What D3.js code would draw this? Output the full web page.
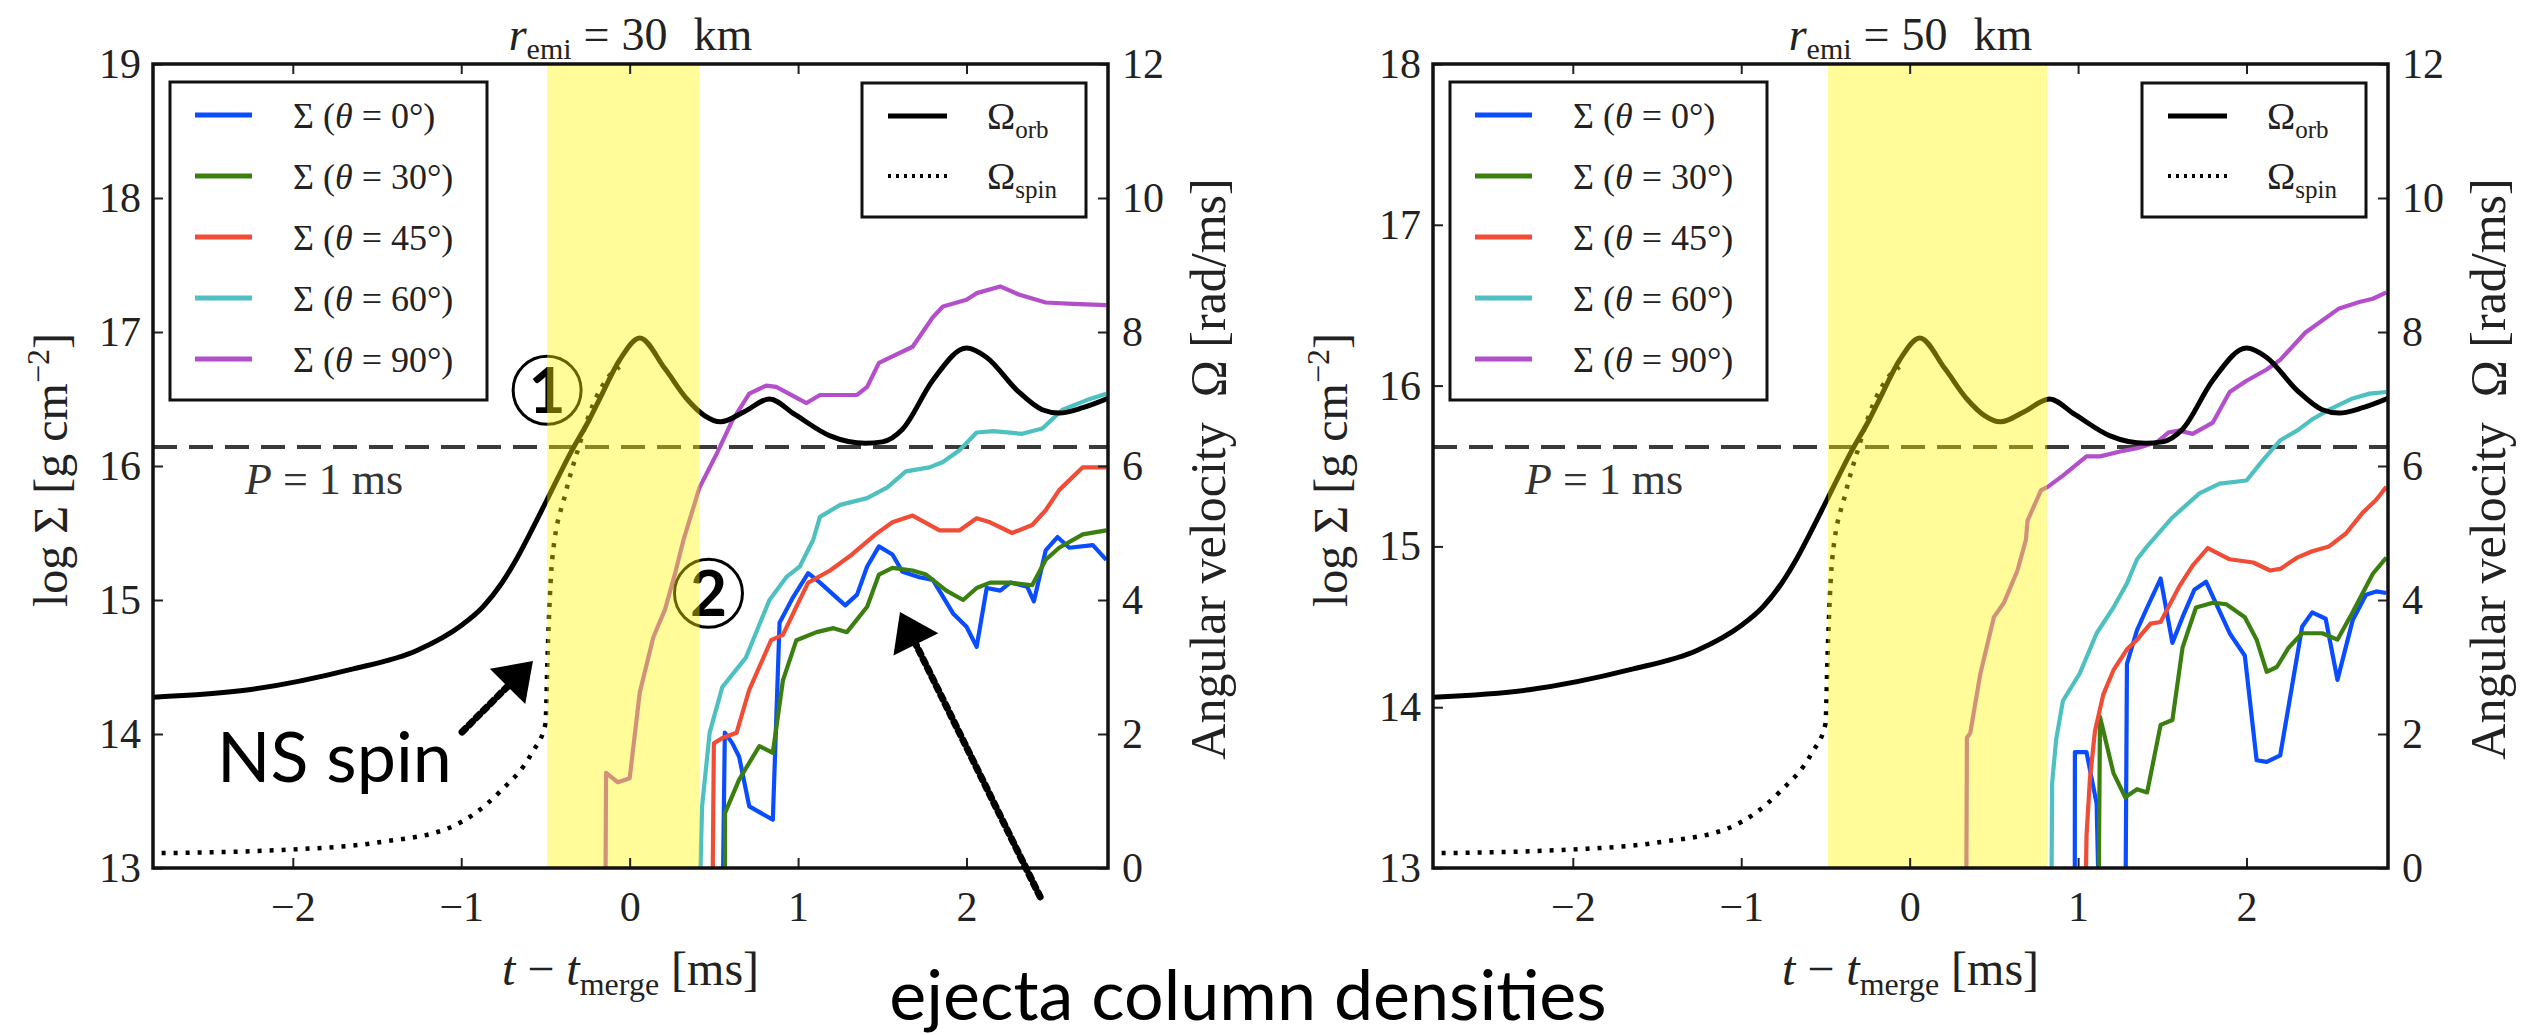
<!DOCTYPE html>
<html>
<head>
<meta charset="utf-8">
<script src="https://cdn.jsdelivr.net/npm/d3@7"></script>
<style>
  body { margin: 0; background: #fff; }
  svg { display: block; }
  text { font-family: 'Liberation Serif', 'Times New Roman', serif; fill: #222; white-space: pre; }
  .note { font-family: Lato, 'Open Sans', sans-serif; fill: #000; }
</style>
</head>
<body>
<svg width="2536" height="1035"></svg>
<script>
// time since merger [ms]
const tDomain = [-2.83, 2.84]
const tTicks = [-2, -1, 0, 1, 2]
const omegaTicks = [0, 2, 4, 6, 8, 10, 12]
const sigmaTicks30 = [13, 14, 15, 16, 17, 18, 19]
const sigmaTicks50 = [13, 14, 15, 16, 17, 18]
const angles = ['0', '30', '45', '60', '90']
const colors = ['#0a4cff', '#3a7f10', '#f04c36', '#4fc0c0', '#b44fcc']
const omegaP1ms = 2 * Math.PI

// yellow band (merger phase) per panel
const band30 = [-0.49, 0.415]
const band50 = [-0.485, 0.815]

// angular velocities [rad/ms], same run for both panels
const omegaOrb = [[-2.83, 2.55], [-2.26, 2.66], [-1.66, 2.96], [-1.26, 3.25], [-1.0, 3.62], [-0.87, 3.90],
  [-0.76, 4.25], [-0.67, 4.62], [-0.58, 5.05], [-0.49, 5.50], [-0.35, 6.20], [-0.24, 6.69], [-0.18, 6.99],
  [-0.06, 7.58], [0.06, 7.91], [0.21, 7.45], [0.34, 7.0], [0.44, 6.76], [0.54, 6.66], [0.68, 6.81], [0.83, 7.0],
  [0.98, 6.77], [1.19, 6.45], [1.40, 6.34], [1.50, 6.36], [1.62, 6.55], [1.80, 7.28], [2.0, 7.76],
  [2.12, 7.62], [2.30, 7.13], [2.45, 6.84], [2.55, 6.79], [2.69, 6.87], [2.84, 7.01]]
const omegaSpin = [[-2.85, 0.22], [-2.06, 0.27], [-1.47, 0.39], [-1.07, 0.60], [-0.77, 1.14], [-0.58, 1.72],
  [-0.50, 2.15], [-0.487, 3.2], [-0.46, 4.6], [-0.38, 5.6], [-0.31, 6.22], [-0.22, 6.9], [-0.12, 7.35], [-0.06, 7.48]]

// log Sigma [g cm^-2], r_emi = 30 km
const sig30_0 = [[0.55, 12.5], [0.565, 14.01], [0.61, 13.93], [0.65, 13.83], [0.71, 13.46], [0.85, 13.36],
  [0.89, 14.83], [0.97, 15.02], [1.06, 15.20], [1.13, 15.13], [1.28, 14.96], [1.35, 15.04], [1.41, 15.25],
  [1.48, 15.40], [1.56, 15.34], [1.62, 15.21], [1.72, 15.17], [1.80, 15.15], [1.92, 14.90], [2.0, 14.80],
  [2.06, 14.65], [2.12, 15.09], [2.20, 15.07], [2.26, 15.13], [2.36, 15.10], [2.40, 14.99], [2.47, 15.37],
  [2.54, 15.47], [2.61, 15.39], [2.75, 15.41], [2.83, 15.30]]
const sig30_30 = [[0.565, 12.5], [0.566, 13.41], [0.65, 13.66], [0.77, 13.91], [0.85, 13.86], [0.91, 14.40],
  [0.99, 14.70], [1.11, 14.76], [1.21, 14.79], [1.29, 14.76], [1.41, 14.95], [1.48, 15.19], [1.56, 15.24],
  [1.68, 15.22], [1.76, 15.19], [1.88, 15.07], [1.98, 15.0], [2.06, 15.09], [2.14, 15.13], [2.26, 15.13],
  [2.39, 15.11], [2.47, 15.30], [2.55, 15.39], [2.69, 15.49], [2.83, 15.52]]
const sig30_45 = [[0.49, 12.5], [0.50, 13.93], [0.55, 13.97], [0.635, 14.01], [0.71, 14.33], [0.84, 14.70],
  [0.91, 14.74], [0.99, 14.95], [1.06, 15.13], [1.19, 15.22], [1.32, 15.34], [1.46, 15.49], [1.56, 15.58],
  [1.68, 15.63], [1.84, 15.52], [1.96, 15.52], [2.06, 15.61], [2.14, 15.58], [2.27, 15.50], [2.39, 15.56],
  [2.47, 15.67], [2.55, 15.82], [2.69, 15.99], [2.83, 15.99]]
const sig30_60 = [[0.41, 12.5], [0.43, 13.46], [0.475, 14.01], [0.55, 14.35], [0.69, 14.57], [0.83, 15.0],
  [0.93, 15.17], [1.01, 15.25], [1.09, 15.45], [1.13, 15.62], [1.25, 15.71], [1.41, 15.76], [1.53, 15.84],
  [1.64, 15.96], [1.78, 15.99], [1.86, 16.03], [1.96, 16.12], [2.06, 16.25], [2.16, 16.26], [2.33, 16.24],
  [2.45, 16.28], [2.57, 16.42], [2.71, 16.49], [2.83, 16.54]]
const sig30_90 = [[-0.145, 12.5], [-0.14, 13.71], [-0.07, 13.64], [0.0, 13.67], [0.06, 14.31], [0.14, 14.72],
  [0.21, 14.93], [0.27, 15.20], [0.32, 15.45], [0.415, 15.84], [0.52, 16.10], [0.61, 16.34], [0.71, 16.54],
  [0.81, 16.60], [0.87, 16.59], [1.05, 16.47], [1.13, 16.53], [1.35, 16.53], [1.41, 16.59], [1.48, 16.77],
  [1.68, 16.89], [1.80, 17.11], [1.86, 17.19], [2.0, 17.24], [2.06, 17.29], [2.20, 17.34], [2.31, 17.28],
  [2.47, 17.22], [2.63, 17.21], [2.83, 17.20]]

// log Sigma [g cm^-2], r_emi = 50 km
const sig50_0 = [[0.98, 12.5], [0.981, 13.72], [1.05, 13.72], [1.11, 13.40], [1.13, 12.5], [1.28, 12.5],
  [1.29, 14.27], [1.35, 14.48], [1.41, 14.62], [1.49, 14.80], [1.56, 14.40], [1.62, 14.56], [1.69, 14.73],
  [1.76, 14.78], [1.90, 14.46], [1.99, 14.32], [2.06, 13.67], [2.12, 13.66], [2.20, 13.70], [2.33, 14.50],
  [2.39, 14.59], [2.47, 14.55], [2.54, 14.17], [2.63, 14.54], [2.71, 14.70], [2.77, 14.72], [2.83, 14.71]]
const sig50_30 = [[1.12, 12.5], [1.13, 13.94], [1.21, 13.59], [1.28, 13.44], [1.35, 13.49], [1.41, 13.47],
  [1.49, 13.89], [1.56, 13.92], [1.62, 14.37], [1.70, 14.62], [1.80, 14.65], [1.88, 14.64], [1.99, 14.56],
  [2.06, 14.42], [2.12, 14.22], [2.18, 14.25], [2.25, 14.37], [2.33, 14.46], [2.45, 14.46], [2.54, 14.42],
  [2.63, 14.59], [2.75, 14.83], [2.83, 14.93]]
const sig50_45 = [[1.04, 12.5], [1.05, 13.2], [1.07, 13.55], [1.10, 13.85], [1.15, 14.08], [1.21, 14.23],
  [1.29, 14.36], [1.35, 14.42], [1.43, 14.52], [1.49, 14.53], [1.60, 14.75], [1.68, 14.88], [1.77, 14.99],
  [1.90, 14.92], [2.04, 14.90], [2.14, 14.85], [2.20, 14.86], [2.30, 14.93], [2.39, 14.97], [2.49, 15.0],
  [2.59, 15.08], [2.69, 15.21], [2.77, 15.29], [2.83, 15.37]]
const sig50_60 = [[0.84, 12.5], [0.846, 13.53], [0.87, 13.80], [0.91, 14.04], [1.01, 14.21], [1.11, 14.46],
  [1.21, 14.62], [1.29, 14.77], [1.35, 14.92], [1.41, 15.0], [1.56, 15.18], [1.72, 15.33], [1.84, 15.39],
  [2.0, 15.41], [2.10, 15.54], [2.20, 15.66], [2.30, 15.72], [2.39, 15.79], [2.49, 15.85], [2.63, 15.92],
  [2.73, 15.95], [2.83, 15.96]]
const sig50_90 = [[0.335, 12.5], [0.34, 13.81], [0.36, 13.84], [0.42, 14.21], [0.50, 14.56], [0.56, 14.65],
  [0.64, 14.85], [0.69, 15.04], [0.70, 15.16], [0.78, 15.35], [0.82, 15.37], [0.91, 15.44], [1.05, 15.56],
  [1.13, 15.56], [1.25, 15.59], [1.35, 15.61], [1.47, 15.65], [1.54, 15.71], [1.60, 15.72], [1.68, 15.70],
  [1.80, 15.77], [1.90, 15.96], [2.0, 16.03], [2.12, 16.10], [2.20, 16.16], [2.35, 16.33], [2.55, 16.48],
  [2.67, 16.52], [2.75, 16.54], [2.83, 16.58]]

// hand-made notes on the left panel, in (t, Omega)
const circledMarks = [{ label: '1', t: -0.49, omega: 7.13 }, { label: '2', t: 0.468, omega: 4.10 }]
const spinArrow = [[-0.995, 2.03], [-0.574, 3.09]]
const ejectaArrow = [[2.437, -0.43], [1.605, 3.82]]
const spinNote = [-2.45, 1.28]

const svg = d3.select('svg')

const panels = [
  { id: 'a', title: '30', x0: 153, x1: 1108, y0: 64, y1: 868, sigDomain: [13, 19], sigTicks: sigmaTicks30,
    band: band30, sigma: [sig30_0, sig30_30, sig30_45, sig30_60, sig30_90], notes: true },
  { id: 'b', title: '50', x0: 1433, x1: 2388, y0: 64, y1: 868, sigDomain: [13, 18], sigTicks: sigmaTicks50,
    band: band50, sigma: [sig50_0, sig50_30, sig50_45, sig50_60, sig50_90], notes: false },
]

const arrow = (g, x, y, pts) => {
  const [a, b] = pts.map(d => [x(d[0]), y(d[1])])
  const len = Math.hypot(b[0] - a[0], b[1] - a[1])
  const ux = (b[0] - a[0]) / len, uy = (b[1] - a[1]) / len
  const bx = b[0] - ux * 36, by = b[1] - uy * 36
  g.append('line')
    .attr('x1', a[0]).attr('y1', a[1]).attr('x2', bx).attr('y2', by)
    .attr('stroke', '#000').attr('stroke-width', 7)
    .attr('stroke-dasharray', '5,5').attr('stroke-linecap', 'round')
  g.append('path')
    .attr('d', `M${b[0]},${b[1]}L${bx - uy * 25},${by + ux * 25}L${bx + uy * 25},${by - ux * 25}Z`)
    .attr('fill', '#000')
}

const drawPanel = (p) => {
  const x = d3.scaleLinear().domain(tDomain).range([p.x0, p.x1])
  const ySig = d3.scaleLinear().domain(p.sigDomain).range([p.y1, p.y0])
  const yOm = d3.scaleLinear().domain([0, 12]).range([p.y1, p.y0])
  const W = p.x1 - p.x0, H = p.y1 - p.y0

  svg.append('clipPath').attr('id', 'clip-' + p.id)
    .append('rect').attr('x', p.x0).attr('y', p.y0).attr('width', W).attr('height', H)

  const g = svg.append('g')
  const plot = g.append('g').attr('clip-path', `url(#clip-${p.id})`)

  // P = 1 ms reference
  plot.append('line')
    .attr('x1', p.x0).attr('x2', p.x1)
    .attr('y1', yOm(omegaP1ms)).attr('y2', yOm(omegaP1ms))
    .attr('stroke', '#3a3a3a').attr('stroke-width', 4).attr('stroke-dasharray', '24,12')
  const pl = g.append('text')
    .attr('x', p.x0 + 92).attr('y', yOm(omegaP1ms) + 47)
    .attr('font-size', 44).style('fill', '#333')
  pl.append('tspan').attr('font-style', 'italic').text('P')
  pl.append('tspan').text(' = 1 ms')

  const sigLine = d3.line().x(d => x(d[0])).y(d => ySig(d[1]))
  p.sigma.forEach((s, i) => {
    plot.append('path').attr('d', sigLine(s))
      .attr('fill', 'none').attr('stroke', colors[i]).attr('stroke-width', 4.2)
      .attr('stroke-linejoin', 'round')
  })

  const omLine = d3.line().x(d => x(d[0])).y(d => yOm(d[1])).curve(d3.curveMonotoneX)
  plot.append('path').attr('d', omLine(omegaOrb))
    .attr('fill', 'none').attr('stroke', '#000').attr('stroke-width', 5)
  plot.append('path').attr('d', omLine(omegaSpin))
    .attr('fill', 'none').attr('stroke', '#000').attr('stroke-width', 4.5)
    .attr('stroke-dasharray', '4,8')

  if (p.notes) {
    circledMarks.forEach(m => {
      plot.append('circle').attr('cx', x(m.t)).attr('cy', yOm(m.omega)).attr('r', 34)
        .attr('fill', 'none').attr('stroke', '#000').attr('stroke-width', 3)
      plot.append('text').attr('class', 'note')
        .attr('x', x(m.t)).attr('y', yOm(m.omega)).attr('dy', '0.36em')
        .attr('text-anchor', 'middle').attr('font-size', 64).attr('font-weight', 700)
        .text(m.label)
    })
  }

  // merger phase band
  plot.append('rect')
    .attr('x', x(p.band[0])).attr('width', x(p.band[1]) - x(p.band[0]))
    .attr('y', p.y0).attr('height', H)
    .attr('fill', '#fff700').attr('fill-opacity', 0.4)

  if (p.notes) {
    arrow(g, x, yOm, spinArrow)
    arrow(svg, x, yOm, ejectaArrow)
    g.append('text').attr('class', 'note')
      .attr('x', x(spinNote[0])).attr('y', yOm(spinNote[1]))
      .attr('font-size', 70).text('NS spin')
  }

  // Sigma legend
  const lg = g.append('g').attr('transform', `translate(${p.x0 + 17},${p.y0 + 18})`)
  lg.append('rect').attr('width', 317).attr('height', 318)
    .attr('fill', '#fff').attr('stroke', '#111').attr('stroke-width', 3)
  angles.forEach((a, i) => {
    const yy = 33 + 61 * i
    lg.append('line').attr('x1', 25).attr('x2', 82).attr('y1', yy).attr('y2', yy)
      .attr('stroke', colors[i]).attr('stroke-width', 5)
    const tx = lg.append('text').attr('x', 123).attr('y', yy).attr('dy', '0.35em').attr('font-size', 36)
    tx.append('tspan').text('Σ (')
    tx.append('tspan').attr('font-style', 'italic').text('θ')
    tx.append('tspan').text(` = ${a}°)`)
  })

  // Omega legend
  const lo = g.append('g').attr('transform', `translate(${p.x1 - 22 - 224},${p.y0 + 19})`)
  lo.append('rect').attr('width', 224).attr('height', 134)
    .attr('fill', '#fff').attr('stroke', '#111').attr('stroke-width', 3)
  ;[['orb', null], ['spin', '3,5']].forEach(([name, dash], i) => {
    const yy = 33 + 60 * i
    lo.append('line').attr('x1', 26).attr('x2', 85).attr('y1', yy).attr('y2', yy)
      .attr('stroke', '#000').attr('stroke-width', dash ? 4 : 5).attr('stroke-dasharray', dash)
    const tx = lo.append('text').attr('x', 125).attr('y', yy).attr('dy', '0.35em').attr('font-size', 38)
    tx.append('tspan').text('Ω')
    tx.append('tspan').attr('font-size', 25).attr('dy', 9).text(name)
  })

  // axes, ticks inward
  const styleAxis = (sel) => {
    sel.select('.domain').remove()
    sel.selectAll('.tick line').attr('stroke', '#222').attr('stroke-width', 2)
    sel.selectAll('.tick text').attr('font-size', 42).attr('fill', '#222')
      .style('font-family', "'Liberation Serif', serif")
  }
  g.append('g').attr('transform', `translate(${p.x0},0)`)
    .call(d3.axisLeft(ySig).tickValues(p.sigTicks).tickSize(-10).tickPadding(12).tickFormat(d3.format('d')))
    .call(styleAxis)
  g.append('g').attr('transform', `translate(${p.x1},0)`)
    .call(d3.axisRight(yOm).tickValues(omegaTicks).tickSize(-10).tickPadding(14).tickFormat(d3.format('d')))
    .call(styleAxis)
  g.append('g').attr('transform', `translate(0,${p.y1})`)
    .call(d3.axisBottom(x).tickValues(tTicks).tickSize(-10).tickPadding(23).tickFormat(d3.format('d')))
    .call(styleAxis)
  g.append('g').attr('transform', `translate(0,${p.y0})`)
    .call(d3.axisTop(x).tickValues(tTicks).tickSize(-10).tickFormat(''))
    .call(styleAxis)

  g.append('rect').attr('x', p.x0).attr('y', p.y0).attr('width', W).attr('height', H)
    .attr('fill', 'none').attr('stroke', '#111').attr('stroke-width', 3.5)

  // title
  const cx = (p.x0 + p.x1) / 2
  const title = g.append('text').attr('x', cx).attr('y', 50).attr('text-anchor', 'middle').attr('font-size', 46)
  title.append('tspan').attr('font-style', 'italic').text('r')
  title.append('tspan').attr('font-size', 30).attr('dy', 9).text('emi')
  title.append('tspan').attr('dy', -9).attr('dx', 12).text('=')
  title.append('tspan').attr('dx', 12).text(p.title)
  title.append('tspan').attr('dx', 26).text('km')

  // x label
  const xl = g.append('text').attr('x', cx).attr('y', 985).attr('text-anchor', 'middle').attr('font-size', 48)
  xl.append('tspan').attr('font-style', 'italic').text('t')
  xl.append('tspan').text(' − ')
  xl.append('tspan').attr('font-style', 'italic').text('t')
  xl.append('tspan').attr('font-size', 32).attr('dy', 10).text('merge')
  xl.append('tspan').attr('dy', -10).text(' [ms]')

  // left label
  const yl = g.append('text').attr('transform', `translate(${p.x0 - 103},${(p.y0 + p.y1) / 2 + 4}) rotate(-90)`)
    .attr('text-anchor', 'middle').attr('dy', '0.35em').attr('font-size', 48)
  yl.append('tspan').text('log Σ [g cm')
  yl.append('tspan').attr('font-size', 32).attr('dy', -18).text('−2')
  yl.append('tspan').attr('dy', 18).text(']')

  // right label
  g.append('text').attr('transform', `translate(${p.x1 + 99},${(p.y0 + p.y1) / 2 + 3}) rotate(-90)`)
    .attr('text-anchor', 'middle').attr('dy', '0.35em').attr('font-size', 50)
    .text('Angular velocity  Ω [rad/ms]')
}

panels.forEach(drawPanel)

svg.append('text').attr('class', 'note')
  .attr('x', 1248).attr('y', 1020).attr('text-anchor', 'middle').attr('font-size', 70)
  .text('ejecta column densities')
</script>
</body>
</html>
